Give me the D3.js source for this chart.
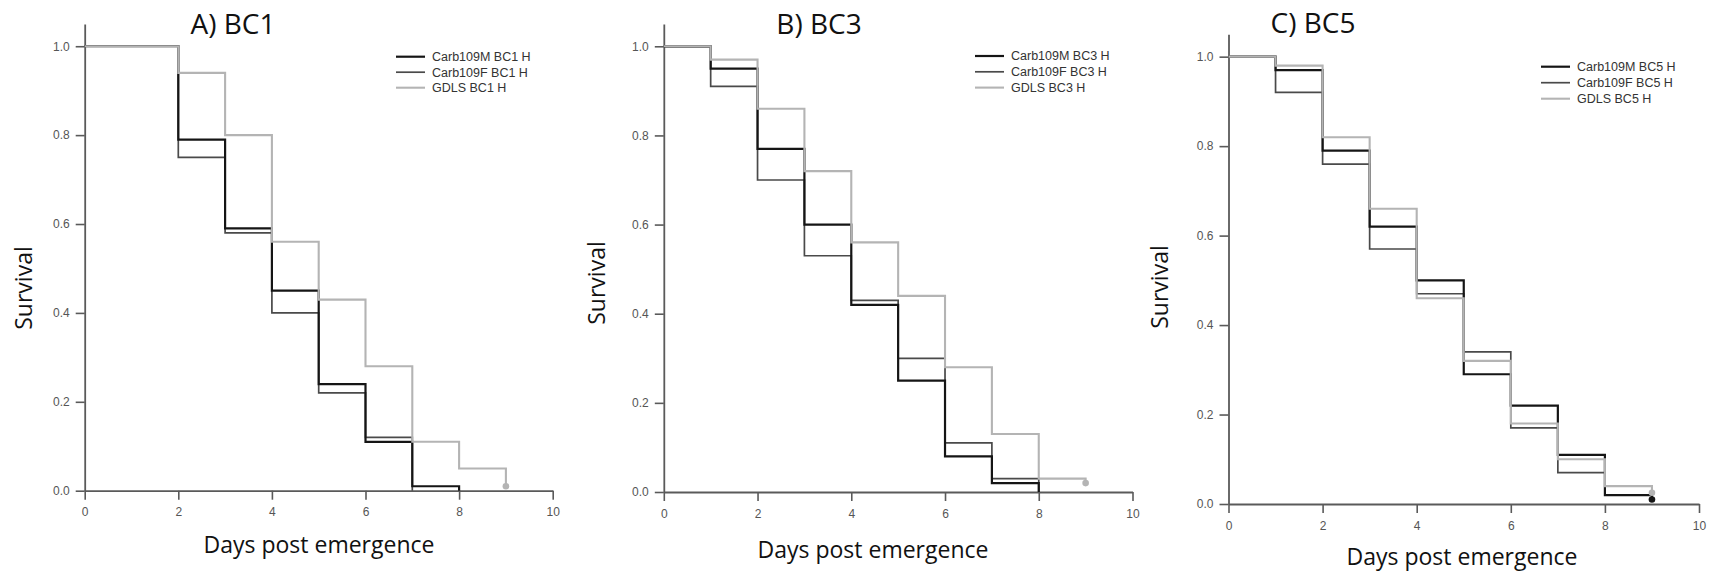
<!DOCTYPE html>
<html>
<head>
<meta charset="utf-8">
<script src="https://cdn.jsdelivr.net/npm/d3@7"></script>
<style>
  html, body { margin: 0; padding: 0; background: #fff; }
  svg { display: block; }
</style>
</head>
<body>
<svg id="chart" width="1711" height="572"></svg>
<script>
// ---------------- DATA ----------------
const days = [0, 1, 2, 3, 4, 5, 6, 7, 8, 9];
const xTicks = [0, 2, 4, 6, 8, 10];
const yTicks = [0, 0.2, 0.4, 0.6, 0.8, 1.0];

const panelTitles = ["A) BC1", "B) BC3", "C) BC5"];
const legendBC1 = ["Carb109M BC1 H", "Carb109F BC1 H", "GDLS BC1 H"];
const legendBC3 = ["Carb109M BC3 H", "Carb109F BC3 H", "GDLS BC3 H"];
const legendBC5 = ["Carb109M BC5 H", "Carb109F BC5 H", "GDLS BC5 H"];

// survival from each day onward (null = curve ended)
const bc1_M = [1, 1, 0.79, 0.59, 0.45, 0.24, 0.11, 0.01, 0, null];
const bc1_F = [1, 1, 0.75, 0.58, 0.40, 0.22, 0.12, 0, null, null];
const bc1_G = [1, 1, 0.94, 0.80, 0.56, 0.43, 0.28, 0.11, 0.05, 0.01];

const bc3_M = [1, 0.95, 0.77, 0.60, 0.42, 0.25, 0.08, 0.02, 0, null];
const bc3_F = [1, 0.91, 0.70, 0.53, 0.43, 0.30, 0.11, 0.03, 0, null];
const bc3_G = [1, 0.97, 0.86, 0.72, 0.56, 0.44, 0.28, 0.13, 0.03, 0.02];

const bc5_M = [1, 0.97, 0.79, 0.62, 0.50, 0.29, 0.22, 0.11, 0.02, 0.01];
const bc5_F = [1, 0.92, 0.76, 0.57, 0.47, 0.34, 0.17, 0.07, 0.02, 0.02];
const bc5_G = [1, 0.98, 0.82, 0.66, 0.46, 0.32, 0.18, 0.10, 0.04, 0.025];

// censored end mark for [M, F, GDLS]
const censorBC1 = [false, false, true];
const censorBC3 = [false, false, true];
const censorBC5 = [true, false, true];

const xLabel = "Days post emergence";
const yLabel = "Survival";

// ---------------- STYLE / LAYOUT ----------------
const seriesColor = ["#151515", "#4a4a4a", "#b4b4b4"];
const seriesWidth = [2.2, 1.7, 2.1];
const axisColor = "#5a5a5a";

const panels = [
  { title: panelTitles[0], legend: legendBC1, series: [bc1_M, bc1_F, bc1_G], censor: censorBC1,
    x0: 84.7, x1: 552.7, y0: 490.7, yTop: 24,
    titleX: 233, titleY: 34, legX: 396, legY: 56.7, legDy: 15.5,
    ylabX: 24, ylabY: 288, xlabX: 319, xlabY: 553 },
  { title: panelTitles[1], legend: legendBC3, series: [bc3_M, bc3_F, bc3_G], censor: censorBC3,
    x0: 663.8, x1: 1132.5, y0: 492, yTop: 24,
    titleX: 819, titleY: 34, legX: 975, legY: 56, legDy: 15.8,
    ylabX: 597, ylabY: 283, xlabX: 873, xlabY: 558 },
  { title: panelTitles[2], legend: legendBC5, series: [bc5_M, bc5_F, bc5_G], censor: censorBC5,
    x0: 1228.5, x1: 1699, y0: 504, yTop: 34.3,
    titleX: 1313, titleY: 33, legX: 1541, legY: 66.7, legDy: 16,
    ylabX: 1160, ylabY: 287, xlabX: 1462, xlabY: 565 }
];

const svg = d3.select("#chart");

panels.forEach(p => {
  const x = d3.scaleLinear().domain([0, 10]).range([p.x0, p.x1]);
  const y = d3.scaleLinear().domain([0, 1.05]).range([p.y0, p.yTop]);
  const g = svg.append("g");

  // axes
  const yAxis = d3.axisLeft(y).tickValues(yTicks).tickFormat(d3.format(".1f"))
    .tickSize(9).tickSizeOuter(0).tickPadding(6);
  const xAxis = d3.axisBottom(x).tickValues(xTicks).tickFormat(d3.format("d"))
    .tickSize(9).tickSizeOuter(0).tickPadding(8);

  const ya = g.append("g").attr("transform", `translate(${p.x0},0)`).call(yAxis);
  const xa = g.append("g").attr("transform", `translate(0,${p.y0})`).call(xAxis);
  [ya, xa].forEach(a => {
    a.select(".domain").attr("stroke", axisColor).attr("stroke-width", 1.8);
    a.selectAll(".tick line").attr("stroke", axisColor).attr("stroke-width", 1.6);
    a.selectAll(".tick text").attr("fill", "#555")
      .style("font-family", "'Liberation Sans', Arial, sans-serif")
      .style("font-size", "12px");
  });

  // series (F, M, then GDLS on top)
  const order = [1, 0, 2];
  const line = d3.line().x(d => x(d.t)).y(d => y(d.v)).curve(d3.curveStepAfter);
  order.forEach(i => {
    const pts = days.map((t, k) => ({ t, v: p.series[i][k] })).filter(d => d.v !== null);
    g.append("path").attr("d", line(pts)).attr("fill", "none")
      .attr("stroke", seriesColor[i]).attr("stroke-width", seriesWidth[i]);
    if (p.censor[i]) {
      const last = pts[pts.length - 1];
      g.append("circle").attr("cx", x(last.t)).attr("cy", y(last.v)).attr("r", 3.3)
        .attr("fill", seriesColor[i]);
    }
  });

  // title
  g.append("text").attr("x", p.titleX).attr("y", p.titleY).attr("text-anchor", "middle")
    .style("font-family", "'Open Sans', sans-serif").style("font-size", "28px")
    .attr("fill", "#111").text(p.title);

  // axis labels
  g.append("text").attr("x", p.xlabX).attr("y", p.xlabY).attr("text-anchor", "middle")
    .style("font-family", "'Open Sans', sans-serif").style("font-size", "23px")
    .attr("fill", "#111").text(xLabel);
  g.append("text").attr("transform", `translate(${p.ylabX},${p.ylabY}) rotate(-90)`)
    .attr("text-anchor", "middle").attr("dy", "0.35em")
    .style("font-family", "'Open Sans', sans-serif").style("font-size", "23px")
    .attr("fill", "#111").text(yLabel);

  // legend
  p.legend.forEach((lab, i) => {
    const ly = p.legY + i * p.legDy;
    g.append("line").attr("x1", p.legX).attr("x2", p.legX + 29).attr("y1", ly).attr("y2", ly)
      .attr("stroke", seriesColor[i]).attr("stroke-width", seriesWidth[i]);
    g.append("text").attr("x", p.legX + 36).attr("y", ly).attr("dy", "0.35em")
      .style("font-family", "'Liberation Sans', Arial, sans-serif").style("font-size", "12.5px")
      .attr("fill", "#333").text(lab);
  });
});
</script>
</body>
</html>
